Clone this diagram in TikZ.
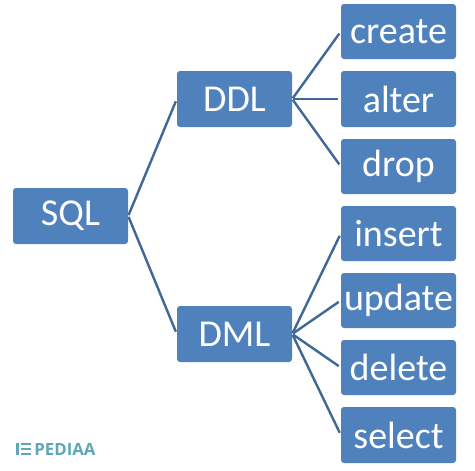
\documentclass[tikz,border=0pt]{standalone}
\usepackage{fontspec}
\setmainfont{Carlito}
\newfontfamily\logofont{Open Sans}
\definecolor{boxblue}{HTML}{4F81BD}
\definecolor{linkblue}{HTML}{3F6797}
\definecolor{logoteal}{HTML}{5FA6B8}
\tikzset{
  item/.style={fill=boxblue,text=white,rounded corners=3pt,minimum width=115pt,minimum height=56pt,inner sep=0pt,font=\fontsize{38}{38}\selectfont},
  link/.style={draw=linkblue,line width=2.4pt,shorten >=2.5pt,shorten <=1pt},
  logobar/.style={fill=logoteal,draw=none,inner sep=0pt}
}
\begin{document}
\begin{tikzpicture}[x=1pt,y=-1pt]
\useasboundingbox (0,0) rectangle (475,471);
\node[item] (sql) at (70.5,216) {SQL};
\node[item] (ddl) at (234.5,99) {DDL};
\node[item] (dml) at (234.5,334) {DML};
\node[item,minimum height=55pt] (create) at (398.5,31.5) {create};
\node[item] (alter) at (398.5,99) {alter};
\node[item,minimum height=55pt] (drop) at (398.5,166.5) {drop};
\node[item,minimum height=55pt] (insert) at (398.5,233.5) {insert};
\node[item,minimum height=55pt] (update) at (398.5,300.5) {update};
\node[item,minimum height=55pt] (delete) at (398.5,367.5) {delete};
\node[item] (select) at (398.5,435) {select};
\foreach \a/\b in {sql/ddl,sql/dml,ddl/create,ddl/alter,ddl/drop,dml/insert,dml/update,dml/delete,dml/select}
  \draw[link] (\a.east) -- (\b.west);
\node[logobar,minimum width=3pt,minimum height=12pt] (logoi) at (17.2,449) {};
\node[logobar,minimum width=9.5pt,minimum height=2.4pt] (logoa) at (26,444.2) {};
\node[logobar,minimum width=9.5pt,minimum height=2.4pt] (logob) at (26,449) {};
\node[logobar,minimum width=9.5pt,minimum height=2.4pt] (logoc) at (26,453.8) {};
\node[text=logoteal,inner sep=0pt,font=\logofont\fontsize{16.8}{16.8}\selectfont\bfseries] (logo) at (65,449) {PEDIAA};
\end{tikzpicture}
\end{document}
